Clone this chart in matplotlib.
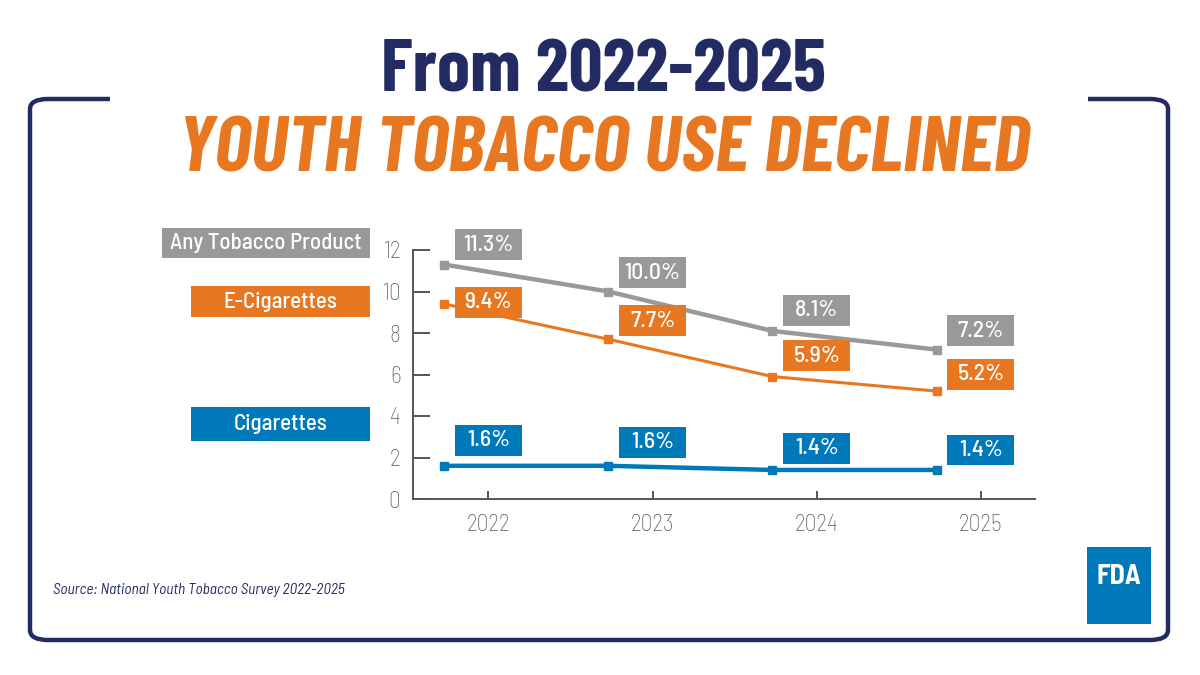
import matplotlib.pyplot as plt
from matplotlib.patches import Rectangle, FancyBboxPatch

years = ['2022', '2023', '2024', '2025']
any_tobacco = [11.3, 10.0, 8.1, 7.2]
e_cigs = [9.4, 7.7, 5.9, 5.2]
cigs = [1.6, 1.6, 1.4, 1.4]
series_names = ['Any Tobacco Product', 'E-Cigarettes', 'Cigarettes']

GRAY = '#999999'
ORANGE = '#E87722'
BLUE = '#0079BA'
NAVY = '#232B63'

W, H = 1200, 675
fig = plt.figure(figsize=(12, 6.75), dpi=100)
TITLE_FONT = ['Barlow Condensed', 'Roboto', 'DejaVu Sans']
NARROW = ['Barlow Semi Condensed', 'Roboto', 'DejaVu Sans']


def fx(px):
    return px / W


def fy(py):
    return 1 - py / H


# frame with a gap at the top
frame = FancyBboxPatch((fx(30), fy(640)), fx(1168) - fx(30), fy(99) - fy(640),
                       boxstyle='round,pad=0,rounding_size=0.015',
                       transform=fig.transFigure, fc='none', ec=NAVY, lw=3.2)
fig.add_artist(frame)
fig.add_artist(Rectangle((fx(110), fy(110)), fx(1088) - fx(110), fy(90) - fy(110),
                         transform=fig.transFigure, fc='white', ec='none'))

fig.text(0.503, fy(92), 'From 2022-2025', ha='center', va='baseline',
         fontsize=54, fontweight='bold', color=NAVY, family=TITLE_FONT)
fig.text(0.503, fy(172), 'YOUTH TOBACCO USE DECLINED', ha='center', va='baseline',
         fontsize=57, fontweight='bold', fontstyle='italic', color=ORANGE, family=TITLE_FONT)

ax = fig.add_axes([fx(413), fy(499), fx(1035) - fx(413), fy(250) - fy(499)])
xi = list(range(len(years)))
xp = [i - 0.27 for i in xi]

ax.plot(xp, any_tobacco, color=GRAY, lw=3.2, marker='s', ms=6, zorder=3)
ax.plot(xp, e_cigs, color=ORANGE, lw=2.2, marker='s', ms=6, zorder=3)
ax.plot(xp, cigs, color=BLUE, lw=3.2, marker='s', ms=6, zorder=3)

ax.set_xlim(-0.46, 3.33)
ax.set_ylim(0, 12)
ax.set_yticks(range(0, 13, 2))
ax.set_xticks(xi)
ax.set_xticklabels(years)
for s in ['top', 'right']:
    ax.spines[s].set_visible(False)
for s in ['left', 'bottom']:
    ax.spines[s].set_color('#555555')
    ax.spines[s].set_linewidth(1.4)
ax.tick_params(axis='y', direction='in', length=12, width=1.4, color='#555555',
               pad=9, labelsize=17, labelcolor='#5a5a5a')
ax.tick_params(axis='x', direction='in', length=6, width=1.4, color='#555555',
               pad=11, labelsize=17, labelcolor='#5a5a5a')
for lab in ax.get_xticklabels() + ax.get_yticklabels():
    lab.set_family(NARROW)
    lab.set_fontweight('light')

# value boxes
label_y = [[12.26, 10.9, 9.1, 8.1],
           [9.47, 8.6, 6.9, 6.0],
           [2.83, 2.74, 2.45, 2.36]]
bw, bh = 0.41, 1.49
for vals, ys, col in zip([any_tobacco, e_cigs, cigs], label_y, [GRAY, ORANGE, BLUE]):
    for i, (v, y) in enumerate(zip(vals, ys)):
        ax.add_patch(Rectangle((i - bw / 2, y - bh / 2), bw, bh, fc=col, ec='none',
                               zorder=5, clip_on=False))
        ax.text(i, y, f'{v:.1f}%', ha='center', va='center', color='white',
                fontsize=17, fontweight='medium', family=NARROW, zorder=6)

# series name boxes on the left
name_boxes = [(162, 228, 258, GRAY), (191, 286, 317, ORANGE), (191, 407, 441, BLUE)]
for name, (x0, y0, y1, col) in zip(series_names, name_boxes):
    fig.add_artist(Rectangle((fx(x0), fy(y1)), fx(370) - fx(x0), fy(y0) - fy(y1),
                             transform=fig.transFigure, fc=col, ec='none'))
    fig.text((fx(x0) + fx(370)) / 2, (fy(y0) + fy(y1)) / 2, name, ha='center',
             va='center', color='white', fontsize=16.5, fontweight='medium', family=NARROW)

fig.text(fx(53), fy(590), 'Source: National Youth Tobacco Survey 2022-2025',
         ha='left', va='center', fontsize=11, fontstyle='italic', color=NAVY, family=NARROW)

# FDA logo
fig.add_artist(Rectangle((fx(1087), fy(624)), fx(1151) - fx(1087), fy(547) - fy(624),
                         transform=fig.transFigure, fc='#0079BA', ec='none'))
fig.text(fx(1119), fy(577), 'FDA', ha='center', va='center', color='white',
         fontsize=20, fontweight='bold', family=NARROW)

fig.savefig('out.png', dpi=100)
